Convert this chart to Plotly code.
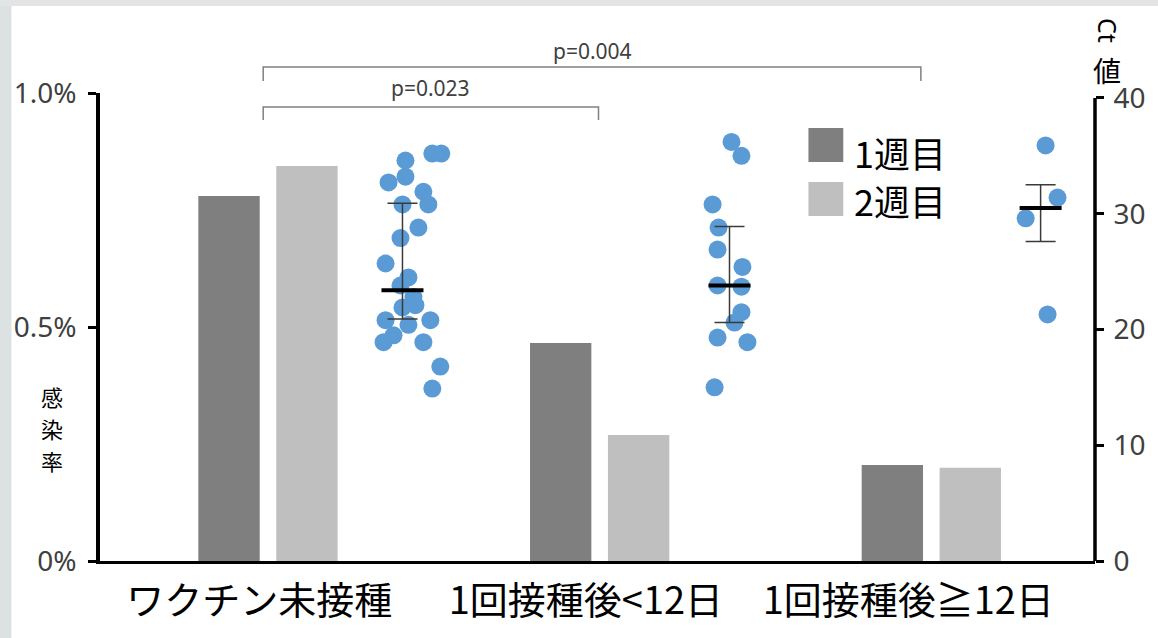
import plotly.graph_objects as go

# ---- data ----
categories = ["ワクチン未接種", "1回接種後<12日", "1回接種後≧12日"]
week1_rate = [0.780, 0.466, 0.205]   # 感染率 (%), 1週目
week2_rate = [0.844, 0.269, 0.199]   # 感染率 (%), 2週目

ct_unvaccinated = [34.6, 35.2, 35.2, 33.2, 32.7, 31.9, 30.8, 30.8, 28.8, 27.9, 25.7, 24.5,
                   23.8, 22.8, 22.1, 21.9, 20.8, 20.8, 20.4, 19.5, 18.9, 18.9, 16.8, 14.9]
ct_lt12 = [36.2, 35.0, 30.8, 28.8, 26.9, 25.4, 23.8, 23.7, 21.5, 20.6, 19.3, 18.9, 15.0]
ct_ge12 = [35.9, 31.4, 29.6, 21.3]

ct_center = [23.4, 23.8, 30.5]
ct_low = [20.9, 20.6, 27.6]
ct_high = [30.9, 28.9, 32.5]

p_labels = ["p=0.023", "p=0.004"]
pct_ticks = [0, 0.5, 1.0]
pct_ticktext = ["0%", "0.5%", "1.0%"]
ct_ticks = [0, 10, 20, 30, 40]
y_title_chars = ["感", "染", "率"]

# ---- layout helpers (positions within each group) ----
BAR1_OFF, BAR2_OFF, STRIP_OFF = 0.389, 0.624, [0.912, 0.898, 0.836]
BAR_W = 0.185
jitter = [
    [0.009, 0.09, 0.117, 0.009, -0.042, 0.063, 0, 0.078, 0.048, -0.006, -0.051, 0.018,
     -0.006, 0.033, 0.039, 0, -0.051, 0.084, 0.018, -0.027, -0.057, 0.063, 0.114, 0.09],
    [0.006, 0.036, -0.051, -0.033, -0.036, 0.039, -0.036, 0.036, 0.036, 0.015, -0.036, 0.054, -0.045],
    [0.015, 0.051, -0.045, 0.021],
]

DARK, LIGHT, DOT = "#7f7f7f", "#bfbfbf", "#5b9bd5"
NUM_FONT = "Noto Sans, Open Sans, sans-serif"
JP_FONT = "Noto Sans CJK JP, Noto Sans, sans-serif"

fig = go.Figure()

fig.add_trace(go.Bar(x=[i + BAR1_OFF for i in range(3)], y=week1_rate, width=BAR_W,
                     marker=dict(color=DARK, line=dict(width=0)), showlegend=False))
fig.add_trace(go.Bar(x=[i + BAR2_OFF for i in range(3)], y=week2_rate, width=BAR_W,
                     marker=dict(color=LIGHT, line=dict(width=0)), showlegend=False))

# Ct value strips
for i, vals in enumerate([ct_unvaccinated, ct_lt12, ct_ge12]):
    xs = [i + STRIP_OFF[i] + j for j in jitter[i]]
    fig.add_trace(go.Scatter(x=xs, y=vals, yaxis="y2", mode="markers",
                             marker=dict(color=DOT, size=18, line=dict(width=0)),
                             showlegend=False))

strip_x = [i + STRIP_OFF[i] for i in range(3)]
fig.add_trace(go.Scatter(
    x=strip_x, y=ct_center, yaxis="y2", mode="markers",
    marker=dict(size=1, color="rgba(0,0,0,0)"),
    error_y=dict(type="data", symmetric=False,
                 array=[h - c for h, c in zip(ct_high, ct_center)],
                 arrayminus=[c - l for c, l in zip(ct_center, ct_low)],
                 color="#3a3a3a", thickness=1.5, width=15),
    showlegend=False))
fig.add_trace(go.Scatter(
    x=strip_x, y=ct_center, yaxis="y2", mode="markers",
    marker=dict(symbol="line-ew", size=30, line=dict(width=4, color="black")),
    showlegend=False))

# significance brackets
brackets = [(0.492, 1.503, 0.9701, 0.9423, 1.0107), (0.492, 2.475, 1.0556, 1.0256, 1.090)]
shapes = []
annotations = []
for (xa, xb, ytop, yend, ytxt), lab in zip(brackets, p_labels):
    shapes.append(dict(type="path", xref="x", yref="paper",
                       path=f"M {xa},{yend} L {xa},{ytop} L {xb},{ytop} L {xb},{yend}",
                       line=dict(color="#808080", width=1.5)))
    annotations.append(dict(x=(xa + xb) / 2, y=ytxt, xref="x", yref="paper", text=lab,
                            xanchor="center", yanchor="middle", showarrow=False,
                            font=dict(family=NUM_FONT, size=21, color="#404040")))

# right axis line (stops at 40)
shapes.append(dict(type="line", xref="paper", yref="y2", x0=1, x1=1, y0=0, y1=40,
                   line=dict(color="black", width=3.5)))

# page frame strips
shapes.append(dict(type="rect", xref="paper", yref="paper", x0=-0.11, x1=-0.089, y0=-0.2, y1=1.21,
                   fillcolor="#dce2e2", line=dict(width=0), layer="below"))
shapes.append(dict(type="rect", xref="paper", yref="paper", x0=-0.11, x1=1.07, y0=1.186, y1=1.21,
                   fillcolor="#e3e5e4", line=dict(width=0), layer="below"))

# legend
for (y0, y1, col, lab, ytxt) in [(0.8526, 0.925, DARK, "1週目", 0.874), (0.737, 0.8098, LIGHT, "2週目", 0.771)]:
    shapes.append(dict(type="rect", xref="paper", yref="paper", x0=0.712, x1=0.747, y0=y0, y1=y1,
                       fillcolor=col, line=dict(width=0)))
    annotations.append(dict(x=0.756, y=ytxt, xref="paper", yref="paper", text=lab,
                            xanchor="left", yanchor="middle", showarrow=False,
                            font=dict(family=JP_FONT, size=36, color="black")))

# left axis title, written vertically one character per line
for k, ch in enumerate(y_title_chars):
    annotations.append(dict(x=-0.048, y=0.352 - k * 0.068, xref="paper", yref="paper", text=ch,
                            xanchor="center", yanchor="middle", showarrow=False,
                            font=dict(family=JP_FONT, size=22, color="black")))
# right axis title
annotations.append(dict(x=1.013, y=1.1325, xref="paper", yref="paper", text="Ct", textangle=90,
                        xanchor="center", yanchor="middle", showarrow=False,
                        font=dict(family=NUM_FONT, size=25, color="black")))
annotations.append(dict(x=1.012, y=1.049, xref="paper", yref="paper", text="値",
                        xanchor="center", yanchor="middle", showarrow=False,
                        font=dict(family=JP_FONT, size=28, color="black")))

fig.update_layout(
    width=1158, height=638,
    margin=dict(l=100, r=58, t=93, b=77, pad=0),
    paper_bgcolor="white", plot_bgcolor="white",
    barmode="overlay",
    xaxis=dict(range=[0, 3], showgrid=False, zeroline=False, showline=True,
               linecolor="black", linewidth=3, ticks="",
               tickvals=[0.48, 1.465, 2.437], ticktext=categories,
               tickfont=dict(family=JP_FONT, size=38, color="black"),
               ticklabelstandoff=4),
    yaxis=dict(range=[0, 1.0], showgrid=False, zeroline=False, showline=True,
               linecolor="black", linewidth=3.5, ticks="outside", ticklen=8, tickwidth=3,
               tickcolor="black", tickvals=pct_ticks, ticktext=pct_ticktext,
               tickfont=dict(family=NUM_FONT, size=28, color="#404040"),
               ticklabelstandoff=6),
    yaxis2=dict(range=[0, 40.43], overlaying="y", side="right", showgrid=False, zeroline=False,
                showline=False, ticks="outside", ticklen=8, tickwidth=3, tickcolor="black",
                tickvals=ct_ticks, tickfont=dict(family=NUM_FONT, size=28, color="#404040"),
                ticklabelstandoff=4),
    shapes=shapes,
    annotations=annotations,
)

fig.write_html("out.html")
